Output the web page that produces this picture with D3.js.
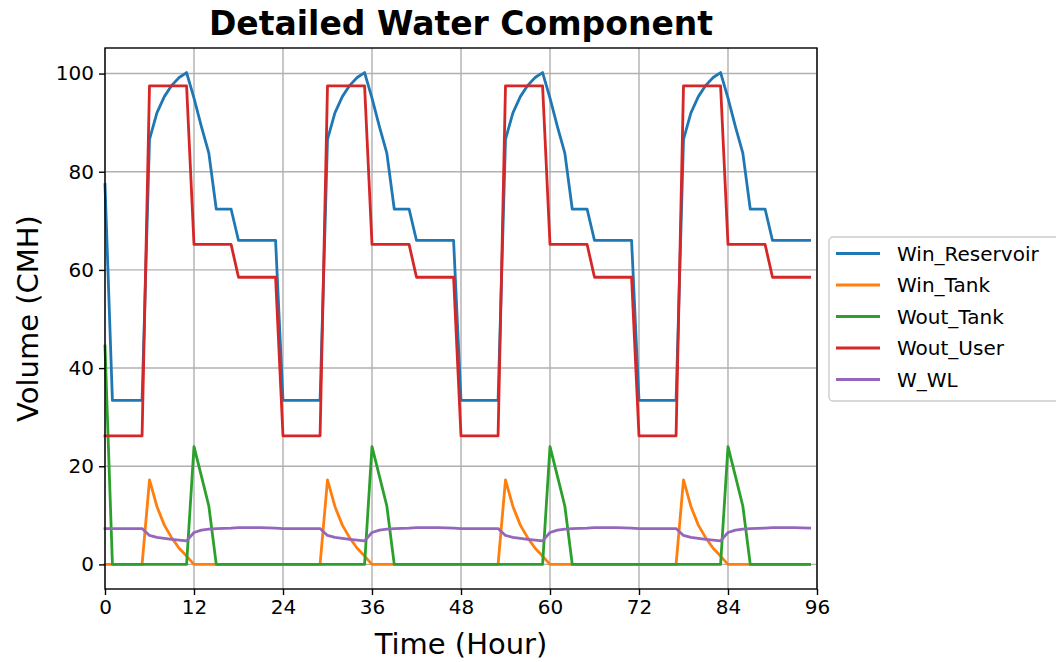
<!DOCTYPE html>
<html>
<head>
<meta charset="utf-8">
<script src="https://cdn.jsdelivr.net/npm/d3@7"></script>
<style>
body { margin: 0; background: #fff; }
svg { font-family: "DejaVu Sans", sans-serif; }
</style>
</head>
<body>
<div></div>
<script>
// hourly values, hours 0..95
var hours = d3.range(0, 96);

var winReservoir = [
    77.4, 33.4, 33.4, 33.4, 33.4, 33.4, 86.6, 92.0, 95.3, 97.6, 99.2, 100.2, 95.0, 89.2, 83.8, 72.4, 72.4, 72.4, 66.0, 66.0, 66.0, 66.0, 66.0, 66.0,
    33.4, 33.4, 33.4, 33.4, 33.4, 33.4, 86.6, 92.0, 95.3, 97.6, 99.2, 100.2, 95.0, 89.2, 83.8, 72.4, 72.4, 72.4, 66.0, 66.0, 66.0, 66.0, 66.0, 66.0,
    33.4, 33.4, 33.4, 33.4, 33.4, 33.4, 86.6, 92.0, 95.3, 97.6, 99.2, 100.2, 95.0, 89.2, 83.8, 72.4, 72.4, 72.4, 66.0, 66.0, 66.0, 66.0, 66.0, 66.0,
    33.4, 33.4, 33.4, 33.4, 33.4, 33.4, 86.6, 92.0, 95.3, 97.6, 99.2, 100.2, 95.0, 89.2, 83.8, 72.4, 72.4, 72.4, 66.0, 66.0, 66.0, 66.0, 66.0, 66.0
];
var winTank = [
    0, 0, 0, 0, 0, 0, 17.2, 11.8, 8.0, 5.4, 3.3, 1.7, 0, 0, 0, 0, 0, 0, 0, 0, 0, 0, 0, 0,
    0, 0, 0, 0, 0, 0, 17.2, 11.8, 8.0, 5.4, 3.3, 1.7, 0, 0, 0, 0, 0, 0, 0, 0, 0, 0, 0, 0,
    0, 0, 0, 0, 0, 0, 17.2, 11.8, 8.0, 5.4, 3.3, 1.7, 0, 0, 0, 0, 0, 0, 0, 0, 0, 0, 0, 0,
    0, 0, 0, 0, 0, 0, 17.2, 11.8, 8.0, 5.4, 3.3, 1.7, 0, 0, 0, 0, 0, 0, 0, 0, 0, 0, 0, 0
];
var woutTank = [
    44.5, 0, 0, 0, 0, 0, 0, 0, 0, 0, 0, 0, 24.0, 18.0, 11.9, 0, 0, 0, 0, 0, 0, 0, 0, 0,
    0, 0, 0, 0, 0, 0, 0, 0, 0, 0, 0, 0, 24.0, 18.0, 11.9, 0, 0, 0, 0, 0, 0, 0, 0, 0,
    0, 0, 0, 0, 0, 0, 0, 0, 0, 0, 0, 0, 24.0, 18.0, 11.9, 0, 0, 0, 0, 0, 0, 0, 0, 0,
    0, 0, 0, 0, 0, 0, 0, 0, 0, 0, 0, 0, 24.0, 18.0, 11.9, 0, 0, 0, 0, 0, 0, 0, 0, 0
];
var woutUser = [
    26.2, 26.2, 26.2, 26.2, 26.2, 26.2, 97.5, 97.5, 97.5, 97.5, 97.5, 97.5, 65.2, 65.2, 65.2, 65.2, 65.2, 65.2, 58.5, 58.5, 58.5, 58.5, 58.5, 58.5,
    26.2, 26.2, 26.2, 26.2, 26.2, 26.2, 97.5, 97.5, 97.5, 97.5, 97.5, 97.5, 65.2, 65.2, 65.2, 65.2, 65.2, 65.2, 58.5, 58.5, 58.5, 58.5, 58.5, 58.5,
    26.2, 26.2, 26.2, 26.2, 26.2, 26.2, 97.5, 97.5, 97.5, 97.5, 97.5, 97.5, 65.2, 65.2, 65.2, 65.2, 65.2, 65.2, 58.5, 58.5, 58.5, 58.5, 58.5, 58.5,
    26.2, 26.2, 26.2, 26.2, 26.2, 26.2, 97.5, 97.5, 97.5, 97.5, 97.5, 97.5, 65.2, 65.2, 65.2, 65.2, 65.2, 65.2, 58.5, 58.5, 58.5, 58.5, 58.5, 58.5
];
var wWL = [
    7.3, 7.3, 7.3, 7.3, 7.3, 7.3, 5.9, 5.5, 5.3, 5.1, 4.95, 4.8, 6.5, 7.0, 7.2, 7.3, 7.35, 7.4, 7.5, 7.5, 7.5, 7.5, 7.45, 7.4,
    7.3, 7.3, 7.3, 7.3, 7.3, 7.3, 5.9, 5.5, 5.3, 5.1, 4.95, 4.8, 6.5, 7.0, 7.2, 7.3, 7.35, 7.4, 7.5, 7.5, 7.5, 7.5, 7.45, 7.4,
    7.3, 7.3, 7.3, 7.3, 7.3, 7.3, 5.9, 5.5, 5.3, 5.1, 4.95, 4.8, 6.5, 7.0, 7.2, 7.3, 7.35, 7.4, 7.5, 7.5, 7.5, 7.5, 7.45, 7.4,
    7.3, 7.3, 7.3, 7.3, 7.3, 7.3, 5.9, 5.5, 5.3, 5.1, 4.95, 4.8, 6.5, 7.0, 7.2, 7.3, 7.35, 7.4, 7.5, 7.5, 7.5, 7.5, 7.45, 7.4
];

var seriesNames = ['Win_Reservoir', 'Win_Tank', 'Wout_Tank', 'Wout_User', 'W_WL'];
var seriesValues = [winReservoir, winTank, woutTank, woutUser, wWL];
var colors = ['#1f77b4', '#ff7f0e', '#2ca02c', '#d62728', '#9467bd'];
var xTicks = [0, 12, 24, 36, 48, 60, 72, 84, 96];
var yTicks = [0, 20, 40, 60, 80, 100];

var width = 1056, height = 662;
var plotLeft = 105, plotRight = 817, plotTop = 48, plotBottom = 589;

var svg = d3.select('div')
    .append('svg')
    .attr('width', width)
    .attr('height', height);

var xscale = d3.scaleLinear().domain([0, 96]).range([plotLeft, plotRight]);
var yscale = d3.scaleLinear().domain([-5.01, 105.21]).range([plotBottom, plotTop]);

// grid
svg.append('g')
    .selectAll('line')
    .data(xTicks)
    .enter()
    .append('line')
    .attr('x1', d => xscale(d)).attr('x2', d => xscale(d))
    .attr('y1', plotTop).attr('y2', plotBottom)
    .attr('stroke', '#b0b0b0').attr('stroke-width', 1.4);
svg.append('g')
    .selectAll('line')
    .data(yTicks)
    .enter()
    .append('line')
    .attr('x1', plotLeft).attr('x2', plotRight)
    .attr('y1', d => yscale(d)).attr('y2', d => yscale(d))
    .attr('stroke', '#b0b0b0').attr('stroke-width', 1.4);

// lines
var line = d3.line()
    .x((d, i) => xscale(hours[i]))
    .y(d => yscale(d));

var plot = svg.append('g');
seriesValues.forEach(function(vals, k) {
    plot.append('path')
        .datum(vals)
        .attr('d', line)
        .attr('fill', 'none')
        .attr('stroke', colors[k])
        .attr('stroke-width', 2.8)
        .attr('stroke-linejoin', 'round')
        .attr('stroke-linecap', 'square');
});

// axes
var xaxis = d3.axisBottom(xscale).tickValues(xTicks).tickSize(6).tickPadding(5);
var yaxis = d3.axisLeft(yscale).tickValues(yTicks).tickSize(6).tickPadding(5);

var gx = svg.append('g')
    .attr('transform', 'translate(0,' + plotBottom + ')')
    .call(xaxis);
var gy = svg.append('g')
    .attr('transform', 'translate(' + plotLeft + ',0)')
    .call(yaxis);
[gx, gy].forEach(function(g) {
    g.attr('font-size', null).attr('font-family', null);
    g.select('.domain').remove();
    g.selectAll('.tick line').attr('stroke', '#000').attr('stroke-width', 1.4);
    g.selectAll('.tick text')
        .attr('fill', '#000')
        .style('font-size', '20px')
        .style('font-family', 'DejaVu Sans');
});

// frame
svg.append('rect')
    .attr('x', plotLeft).attr('y', plotTop)
    .attr('width', plotRight - plotLeft).attr('height', plotBottom - plotTop)
    .attr('fill', 'none').attr('stroke', '#000').attr('stroke-width', 1.4);

// title & labels
svg.append('text')
    .attr('x', (plotLeft + plotRight) / 2).attr('y', 35)
    .attr('text-anchor', 'middle')
    .style('font-size', '33px').style('font-weight', 'bold')
    .text('Detailed Water Component');
svg.append('text')
    .attr('x', (plotLeft + plotRight) / 2).attr('y', 654)
    .attr('text-anchor', 'middle')
    .style('font-size', '29px')
    .text('Time (Hour)');
svg.append('text')
    .attr('transform', 'translate(38,' + (plotTop + plotBottom) / 2 + ') rotate(-90)')
    .attr('text-anchor', 'middle')
    .style('font-size', '29px')
    .text('Volume (CMH)');

// legend
var legend = svg.append('g').attr('transform', 'translate(829,237)');
legend.append('rect')
    .attr('width', 240).attr('height', 164)
    .attr('rx', 4)
    .attr('fill', '#fff').attr('fill-opacity', 0.8)
    .attr('stroke', '#cccccc').attr('stroke-width', 1.4);
var item = legend.selectAll('g.item')
    .data(seriesNames)
    .enter()
    .append('g')
    .attr('class', 'item')
    .attr('transform', (d, i) => 'translate(0,' + (16.5 + i * 31.5) + ')');
item.append('line')
    .attr('x1', 7).attr('x2', 51)
    .attr('stroke', (d, i) => colors[i])
    .attr('stroke-width', 2.8);
item.append('text')
    .attr('x', 68).attr('y', 7)
    .style('font-size', '20px')
    .text(d => d);
</script>
</body>
</html>
